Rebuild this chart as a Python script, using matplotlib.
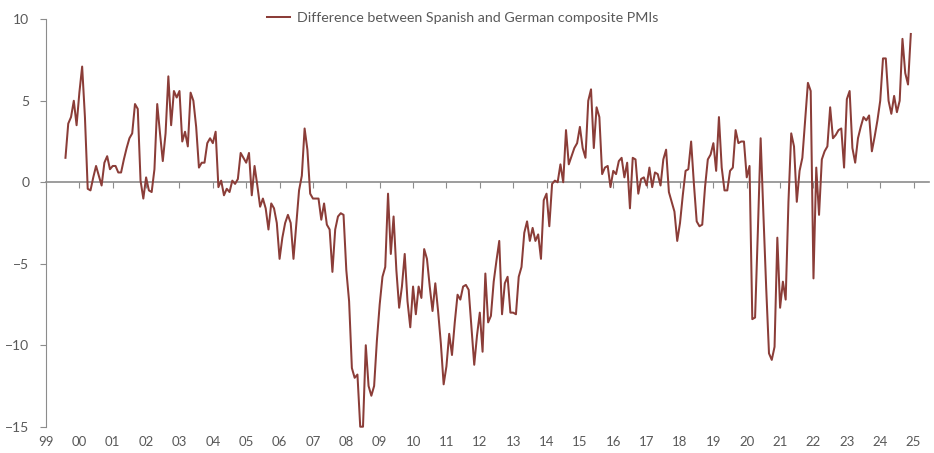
import numpy as np
import matplotlib.pyplot as plt

plt.rcParams['font.family'] = ['Lato', 'DejaVu Sans']

# Spanish minus German composite PMI, monthly, Aug 1999 - Dec 2024
d1999 = [1.5, 3.6, 4.0, 5.0, 3.5]  # Aug-Dec only
d2000 = [5.5, 7.1, 4.0, -0.4, -0.5, 0.3, 1.0, 0.4, -0.2, 1.2, 1.6, 0.8]
d2001 = [1.0, 1.0, 0.6, 0.6, 1.4, 2.1, 2.7, 3.0, 4.8, 4.5, 0.1, -1.0]
d2002 = [0.3, -0.5, -0.6, 0.8, 4.8, 3.0, 1.3, 3.0, 6.5, 3.5, 5.6, 5.2]
d2003 = [5.6, 2.5, 3.1, 2.2, 5.5, 5.0, 3.4, 0.9, 1.2, 1.2, 2.4, 2.7]
d2004 = [2.4, 3.1, -0.3, 0.1, -0.8, -0.4, -0.6, 0.1, -0.1, 0.2, 1.8, 1.5]
d2005 = [1.2, 1.8, -0.8, 1.0, -0.2, -1.5, -1.0, -1.6, -2.9, -1.3, -1.6, -2.5]
d2006 = [-4.7, -3.4, -2.5, -2.0, -2.5, -4.7, -2.6, -0.5, 0.4, 3.3, 2.0, -0.7]
d2007 = [-1.0, -1.0, -1.0, -2.3, -1.3, -2.6, -2.9, -5.5, -2.9, -2.1, -1.9, -2.0]
d2008 = [-5.4, -7.3, -11.4, -12.0, -11.8, -15.0, -15.0, -10.0, -12.5, -13.1, -12.5, -9.7]
d2009 = [-7.5, -5.8, -5.2, -0.7, -4.4, -2.1, -5.4, -7.7, -6.4, -4.4, -7.3, -8.9]
d2010 = [-6.4, -8.1, -6.4, -7.1, -4.1, -4.7, -6.4, -7.9, -6.2, -7.9, -9.9, -12.4]
d2011 = [-11.3, -9.3, -10.6, -8.6, -6.9, -7.2, -6.4, -6.3, -6.6, -8.9, -11.2, -9.4]
d2012 = [-8.0, -10.4, -5.6, -8.6, -8.2, -6.1, -4.8, -3.6, -8.1, -6.2, -5.8, -8.0]
d2013 = [-8.0, -8.1, -5.8, -5.2, -3.1, -2.4, -3.6, -2.8, -3.6, -3.2, -4.7, -1.1]
d2014 = [-0.7, -2.7, -0.1, 0.1, 0.0, 1.1, 0.0, 3.2, 1.1, 1.6, 2.1, 2.4]
d2015 = [3.4, 2.1, 1.5, 5.0, 5.7, 2.1, 4.6, 4.0, 0.5, 0.9, 1.0, -0.3]
d2016 = [0.7, 0.5, 1.3, 1.5, 0.3, 1.2, -1.6, 1.5, 1.4, -0.7, 0.2, 0.3]
d2017 = [-0.2, 0.9, -0.3, 0.6, 0.5, -0.2, 1.4, 2.0, -0.6, -1.2, -1.8, -3.6]
d2018 = [-2.5, -0.8, 0.7, 0.8, 2.5, -0.1, -2.4, -2.7, -2.6, -0.3, 1.4, 1.7]
d2019 = [2.4, 0.7, 4.0, 0.9, -0.5, -0.5, 0.7, 0.9, 3.2, 2.4, 2.5, 2.5]
d2020 = [0.3, 1.0, -8.4, -8.3, -3.0, 2.7, -2.0, -6.5, -10.5, -10.9, -10.1, -3.4]
d2021 = [-7.7, -6.1, -7.2, -1.2, 3.0, 2.2, -1.2, 0.7, 1.5, 3.8, 6.1, 5.6]
d2022 = [-5.9, 0.9, -2.0, 1.4, 1.9, 2.2, 4.6, 2.7, 2.9, 3.2, 3.3, 0.9]
d2023 = [5.1, 5.6, 2.1, 1.2, 2.7, 3.4, 4.0, 3.8, 4.1, 1.9, 2.8, 3.8]
d2024 = [5.0, 7.6, 7.6, 5.0, 4.2, 5.3, 4.3, 5.0, 8.8, 6.7, 6.0, 9.1]

diff = (d1999 + d2000 + d2001 + d2002 + d2003 + d2004 + d2005 + d2006 + d2007
        + d2008 + d2009 + d2010 + d2011 + d2012 + d2013 + d2014 + d2015 + d2016
        + d2017 + d2018 + d2019 + d2020 + d2021 + d2022 + d2023 + d2024)

years = list(range(1999, 2026))
year_labels = [f"{y % 100:02d}" for y in years]

# monthly positions in decimal years, starting Aug 1999
x = 1999 + (7 + np.arange(len(diff))) / 12

line_col = '#8b3d38'
grey = '#8c8c8c'
txt = '#595959'

fig = plt.figure(figsize=(9.34, 4.53), dpi=100)
ax = fig.add_axes([46 / 934, 26.3 / 453, 882.6 / 934, 407.4 / 453])

ax.plot(x, diff, color=line_col, lw=1.45, zorder=3, clip_on=False,
        label='Difference between Spanish and German composite PMIs')

ax.set_ylim(-15, 10)
ax.set_xlim(1999, 2025.45)
ax.set_yticks(range(-15, 11, 5))
ax.tick_params(axis='y', direction='out', length=4, color=grey,
               labelcolor=txt, labelsize=10, pad=8)

for s in ['top', 'right']:
    ax.spines[s].set_visible(False)
ax.spines['left'].set_color(grey)
ax.spines['bottom'].set_position(('data', 0))
ax.spines['bottom'].set_color(grey)
ax.spines['bottom'].set_linewidth(1.2)

ax.set_xticks(years)
ax.tick_params(axis='x', direction='out', length=4, color=grey, labelbottom=False)

# year labels sit below the plot, ticks stay on the zero line
sec = ax.secondary_xaxis(0)
sec.set_xticks(years, labels=year_labels)
sec.tick_params(length=0, pad=7, labelcolor=txt, labelsize=9.5)
sec.spines['bottom'].set_visible(False)

fig.legend(loc='center', bbox_to_anchor=(463 / 934, 1 - 18 / 453), frameon=False,
           fontsize=10.3, labelcolor=txt, handlelength=1.6, handletextpad=0.5)

fig.savefig('out.png', dpi=100)
